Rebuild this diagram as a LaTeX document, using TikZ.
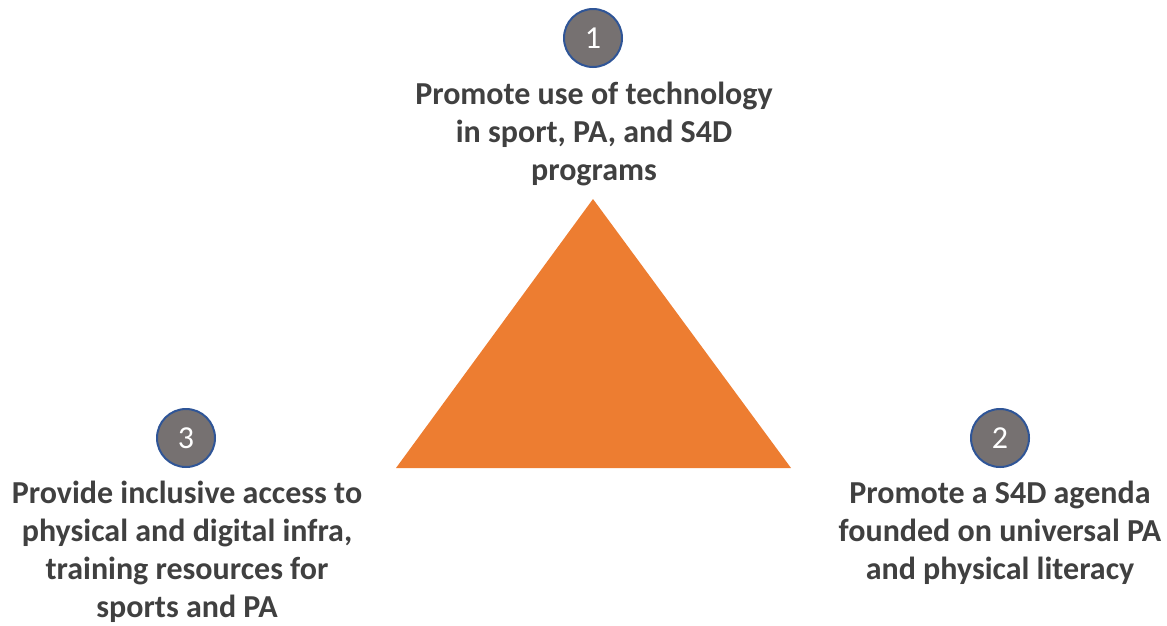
\documentclass[tikz,border=0pt]{standalone}
\usepackage{fontspec}
\setmainfont{Carlito}
\definecolor{tri}{HTML}{ED7D31}
\definecolor{cfill}{HTML}{767171}
\definecolor{cline}{HTML}{2F5597}
\definecolor{txt}{HTML}{404040}
\begin{document}
\begin{tikzpicture}[x=1pt,y=-1pt,
  numc/.style={circle,fill=cfill,draw=cline,line width=2pt,minimum size=58pt,inner sep=0pt,text=white,font=\fontsize{32}{32}\selectfont},
  lbl/.style={align=center,text=txt,font=\bfseries\fontsize{32}{38}\selectfont,inner sep=0pt}]
\useasboundingbox (0,0) rectangle (1167,625);
\fill[tri] (593,199) coordinate (apex) -- (791,468) coordinate (br) -- (396,468) coordinate (bl) -- cycle;
\node[numc] (n1) at (593,38) {1};
\node[numc] (n2) at (1000,438) {2};
\node[numc] (n3) at (186,438) {3};
\node[lbl] (t1) at (594,134) {Promote use of technology\\in sport, PA, and S4D\\programs};
\node[lbl] (t2) at (1000,533) {Promote a S4D agenda\\founded on universal PA\\and physical literacy};
\node[lbl] (t3) at (187,552) {Provide inclusive access to\\physical and digital infra,\\training resources for\\sports and PA};
\end{tikzpicture}
\end{document}
